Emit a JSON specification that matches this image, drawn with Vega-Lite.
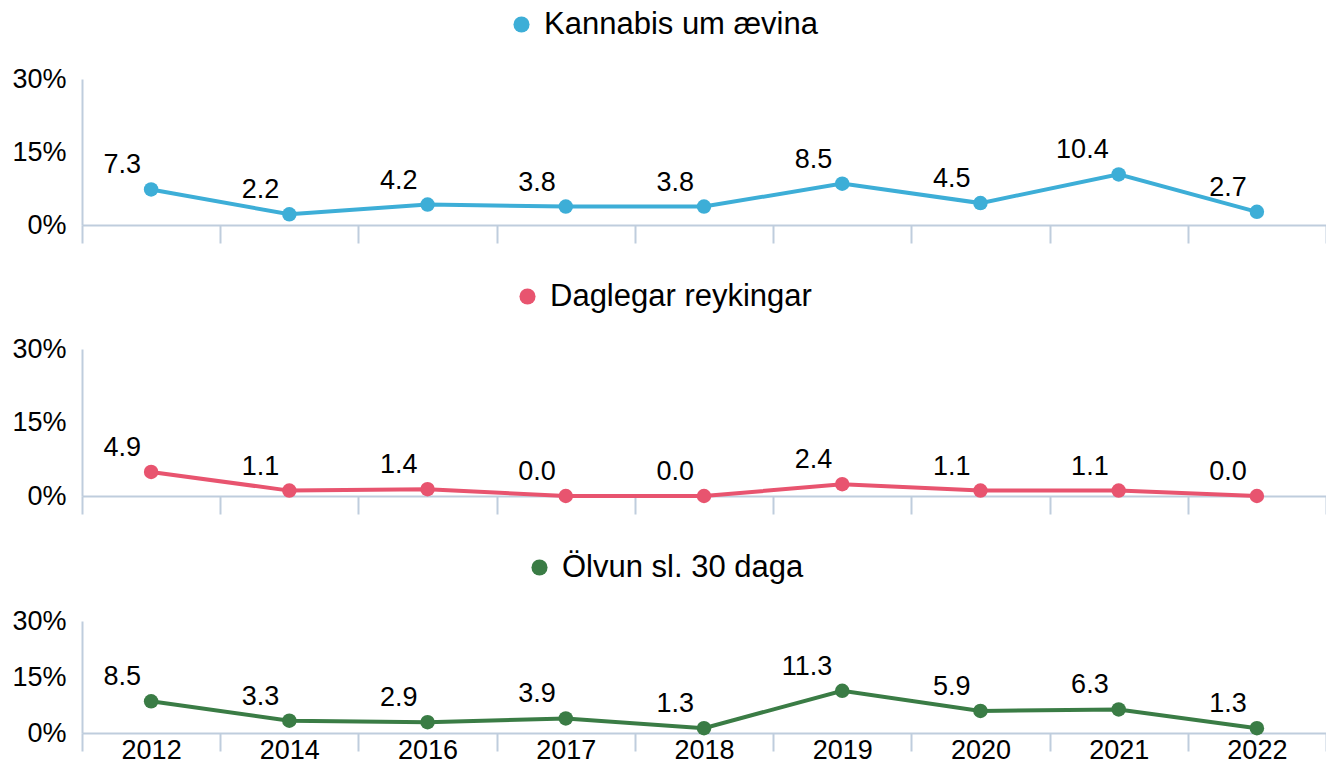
{
  "$schema": "https://vega.github.io/schema/vega-lite/v6.json",
  "padding": {"left": 11, "top": 9, "right": 0, "bottom": 0},
  "autosize": {"type": "pad"},
  "background": "white",
  "spacing": 37,
  "config": {
    "font": "Liberation Sans",
    "view": {"stroke": null},
    "axis": {"grid": false, "domainColor": "#BFCDDD", "domainWidth": 2, "tickColor": "#BFCDDD", "tickWidth": 2, "labelColor": "#000000", "labelFont": "Liberation Sans", "labelFontSize": 27, "title": null},
    "legend": {"labelFont": "Liberation Sans", "labelFontSize": 31, "labelColor": "#000000", "labelLimit": 600, "symbolType": "circle", "symbolSize": 260, "symbolStrokeWidth": 0, "title": null, "padding": 0, "labelOffset": 7}
  },
  "datasets": {
    "rows": [
      {"series": "Kannabis um ævina", "year": "2012", "value": 7.3},
      {"series": "Kannabis um ævina", "year": "2014", "value": 2.2},
      {"series": "Kannabis um ævina", "year": "2016", "value": 4.2},
      {"series": "Kannabis um ævina", "year": "2017", "value": 3.8},
      {"series": "Kannabis um ævina", "year": "2018", "value": 3.8},
      {"series": "Kannabis um ævina", "year": "2019", "value": 8.5},
      {"series": "Kannabis um ævina", "year": "2020", "value": 4.5},
      {"series": "Kannabis um ævina", "year": "2021", "value": 10.4},
      {"series": "Kannabis um ævina", "year": "2022", "value": 2.7},
      {"series": "Daglegar reykingar", "year": "2012", "value": 4.9},
      {"series": "Daglegar reykingar", "year": "2014", "value": 1.1},
      {"series": "Daglegar reykingar", "year": "2016", "value": 1.4},
      {"series": "Daglegar reykingar", "year": "2017", "value": 0.0},
      {"series": "Daglegar reykingar", "year": "2018", "value": 0.0},
      {"series": "Daglegar reykingar", "year": "2019", "value": 2.4},
      {"series": "Daglegar reykingar", "year": "2020", "value": 1.1},
      {"series": "Daglegar reykingar", "year": "2021", "value": 1.1},
      {"series": "Daglegar reykingar", "year": "2022", "value": 0.0},
      {"series": "Ölvun sl. 30 daga", "year": "2012", "value": 8.5},
      {"series": "Ölvun sl. 30 daga", "year": "2014", "value": 3.3},
      {"series": "Ölvun sl. 30 daga", "year": "2016", "value": 2.9},
      {"series": "Ölvun sl. 30 daga", "year": "2017", "value": 3.9},
      {"series": "Ölvun sl. 30 daga", "year": "2018", "value": 1.3},
      {"series": "Ölvun sl. 30 daga", "year": "2019", "value": 11.3},
      {"series": "Ölvun sl. 30 daga", "year": "2020", "value": 5.9},
      {"series": "Ölvun sl. 30 daga", "year": "2021", "value": 6.3},
      {"series": "Ölvun sl. 30 daga", "year": "2022", "value": 1.3}
    ]
  },
  "vconcat": [
    {
      "width": 1244, "height": 146,
      "data": {"name": "rows"},
      "transform": [{"filter": "datum.series === 'Kannabis um ævina'"}],
      "encoding": {
        "x": {"field": "year", "type": "ordinal", "scale": {"paddingInner": 0, "paddingOuter": 0}, "axis": {"labels": false, "ticks": true, "tickBand": "extent", "tickSize": 18}},
        "y": {"field": "value", "type": "quantitative", "scale": {"domain": [0, 30], "nice": false}, "axis": {"values": [0, 15, 30], "ticks": false, "labelPadding": 16, "labelExpr": "datum.value + '%'"}}
      },
      "layer": [
        {"mark": {"type": "line", "strokeWidth": 4, "color": "#3DAED7"}},
        {"mark": {"type": "point", "filled": true, "opacity": 1, "size": 210}, "encoding": {"color": {"field": "series", "type": "nominal", "scale": {"domain": ["Kannabis um ævina"], "range": ["#3DAED7"]}, "legend": {"orient": "none", "legendX": 424, "legendY": -70, "direction": "horizontal"}}}},
        {"mark": {"type": "text", "align": "right", "baseline": "middle", "dx": -10, "dy": -24, "fontSize": 27, "color": "#000000"}, "encoding": {"text": {"field": "value", "type": "quantitative", "format": ".1f"}}}
      ]
    },
    {
      "width": 1244, "height": 147,
      "data": {"name": "rows"},
      "transform": [{"filter": "datum.series === 'Daglegar reykingar'"}],
      "encoding": {
        "x": {"field": "year", "type": "ordinal", "scale": {"paddingInner": 0, "paddingOuter": 0}, "axis": {"labels": false, "ticks": true, "tickBand": "extent", "tickSize": 18}},
        "y": {"field": "value", "type": "quantitative", "scale": {"domain": [0, 30], "nice": false}, "axis": {"values": [0, 15, 30], "ticks": false, "labelPadding": 16, "labelExpr": "datum.value + '%'"}}
      },
      "layer": [
        {"mark": {"type": "line", "strokeWidth": 4, "color": "#E8546F"}},
        {"mark": {"type": "point", "filled": true, "opacity": 1, "size": 210}, "encoding": {"color": {"field": "series", "type": "nominal", "scale": {"domain": ["Daglegar reykingar"], "range": ["#E8546F"]}, "legend": {"orient": "none", "legendX": 430, "legendY": -68, "direction": "horizontal"}}}},
        {"mark": {"type": "text", "align": "right", "baseline": "middle", "dx": -10, "dy": -24, "fontSize": 27, "color": "#000000"}, "encoding": {"text": {"field": "value", "type": "quantitative", "format": ".1f"}}}
      ]
    },
    {
      "width": 1244, "height": 112,
      "data": {"name": "rows"},
      "transform": [{"filter": "datum.series === 'Ölvun sl. 30 daga'"}],
      "encoding": {
        "x": {"field": "year", "type": "ordinal", "scale": {"paddingInner": 0, "paddingOuter": 0}, "axis": {"labels": true, "labelAngle": 0, "ticks": true, "tickBand": "extent", "tickSize": 18, "labelPadding": -14, "labelBaseline": "top"}},
        "y": {"field": "value", "type": "quantitative", "scale": {"domain": [0, 30], "nice": false}, "axis": {"values": [0, 15, 30], "ticks": false, "labelPadding": 16, "labelExpr": "datum.value + '%'"}}
      },
      "layer": [
        {"mark": {"type": "line", "strokeWidth": 4, "color": "#3A7C45"}},
        {"mark": {"type": "point", "filled": true, "opacity": 1, "size": 210}, "encoding": {"color": {"field": "series", "type": "nominal", "scale": {"domain": ["Ölvun sl. 30 daga"], "range": ["#3A7C45"]}, "legend": {"orient": "none", "legendX": 442, "legendY": -69, "direction": "horizontal"}}}},
        {"mark": {"type": "text", "align": "right", "baseline": "middle", "dx": -10, "dy": -24, "fontSize": 27, "color": "#000000"}, "encoding": {"text": {"field": "value", "type": "quantitative", "format": ".1f"}}}
      ]
    }
  ],
  "resolve": {"scale": {"color": "independent"}, "legend": {"color": "independent"}}
}
